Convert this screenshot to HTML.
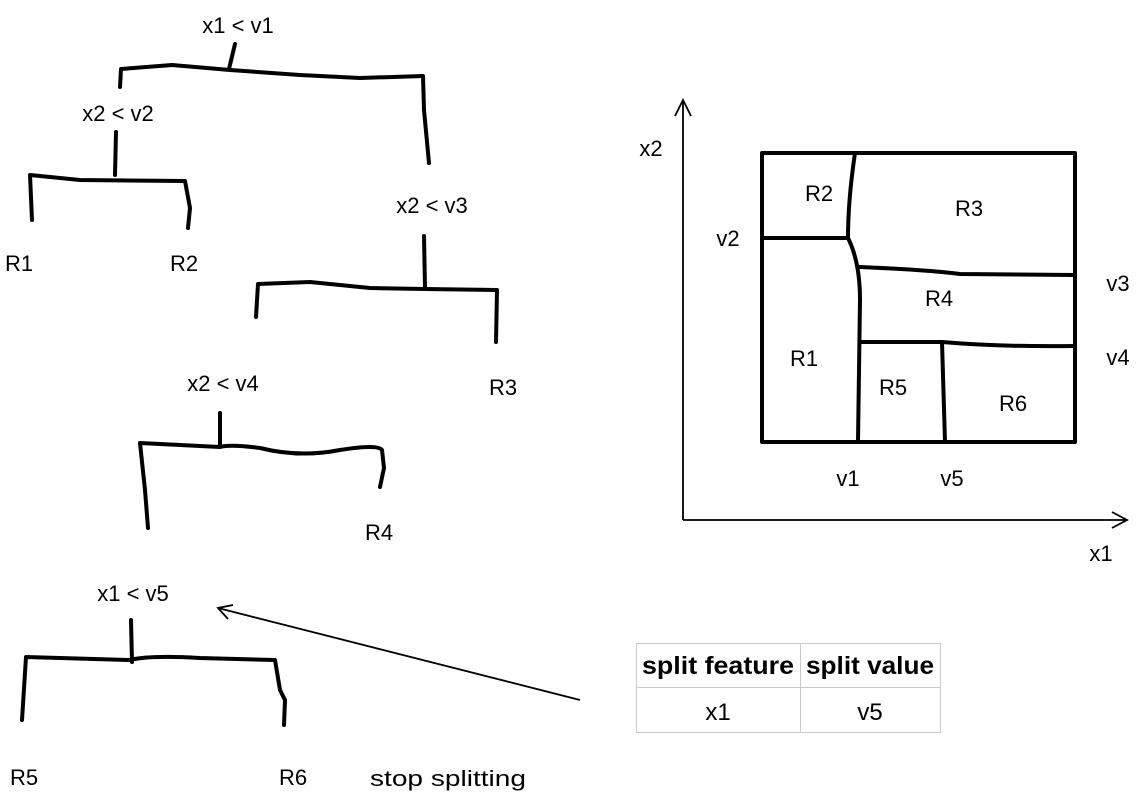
<!DOCTYPE html>
<html><head><meta charset="utf-8"><style>
body{margin:0;background:#fff;width:1148px;height:805px;overflow:hidden}
svg text{font-family:"Liberation Sans",sans-serif;font-size:22px;fill:#000}
</style></head><body>
<svg width="1148" height="805" viewBox="0 0 1148 805">
<g fill="none" stroke="#000" stroke-width="4" stroke-linecap="round" stroke-linejoin="round">
<path d="M235 44 L229 69"/>
<path d="M120 87 L121 69 L172 65 L230 70 L300 75 L360 78 L423 76 L424 110 L429 163"/>
<path d="M116 132 L115 175"/>
<path d="M32 220 L30 175 L80 180 L185 181 L190 208 L188 228"/>
<path d="M424 236 L425 288"/>
<path d="M256 317 L258 284 L310 282 L370 288 L425 289 L497 290 L496 342"/>
<path d="M220 413 L220 447"/>
<path d="M148 528 L145 490 L140 443 L220 447 Q230 444 260 448 Q300 458 340 450 Q378 444 382 450 L384 468 L380 487"/>
<path d="M131 620 L132 662"/>
<path d="M22 720 L26 657 L130 660 Q150 655 200 658 L275 660 L280 690 L285 700 L284 725"/>
<path d="M762 153 L1075 153 L1075 442 L762 442 Z"/>
<path d="M855 153 Q848 200 848 238 Q860 262 860 300 L858 442"/>
<path d="M762 238 L848 238"/>
<path d="M860 267 Q930 270 960 274 L1075 275"/>
<path d="M862 342 L942 342 Q1000 347 1075 346"/>
<path d="M942 342 L945 442"/>
</g>
<g fill="none" stroke="#000" stroke-width="1.8">
<path d="M683 520 L683 100 M675 116 L683 100 L691 116"/>
<path d="M683 520 L1127 520 M1112 512 L1127 520 L1112 528"/>
<path d="M580 700 L218 608 M233 605 L218 608 L228 619"/>
</g>
<g text-anchor="middle">
<text x="238" y="33">x1 &lt; v1</text>
<text x="118" y="121">x2 &lt; v2</text>
<text x="432" y="213">x2 &lt; v3</text>
<text x="223" y="391">x2 &lt; v4</text>
<text x="133" y="601">x1 &lt; v5</text>
<text x="19" y="271">R1</text>
<text x="184" y="271">R2</text>
<text x="503" y="395">R3</text>
<text x="379" y="540">R4</text>
<text x="24" y="785">R5</text>
<text x="293" y="785">R6</text>
<text x="448" y="786" textLength="156" lengthAdjust="spacingAndGlyphs" x-comment="">stop splitting</text>
<text x="651" y="156">x2</text>
<text x="1101" y="561">x1</text>
<text x="728" y="246">v2</text>
<text x="1118" y="291">v3</text>
<text x="1118" y="365">v4</text>
<text x="848" y="486">v1</text>
<text x="952" y="486">v5</text>
<text x="819" y="201">R2</text>
<text x="969" y="216">R3</text>
<text x="939" y="306">R4</text>
<text x="804" y="366">R1</text>
<text x="893" y="395">R5</text>
<text x="1013" y="411">R6</text>
</g>
<g fill="none" stroke="#c8c8c8" stroke-width="1">
<rect x="636.5" y="643.5" width="304" height="89"/>
<path d="M800.5 643 V733 M636 687.5 H941"/>
</g>
<g text-anchor="middle">
<text x="718" y="674" textLength="152" lengthAdjust="spacingAndGlyphs" style="font-weight:bold;font-size:25px">split feature</text>
<text x="870" y="674" textLength="128" lengthAdjust="spacingAndGlyphs" style="font-weight:bold;font-size:25px">split value</text>
<text x="718" y="720" style="font-size:24px">x1</text>
<text x="870" y="720" style="font-size:24px">v5</text>
</g>
</svg>
</body></html>
